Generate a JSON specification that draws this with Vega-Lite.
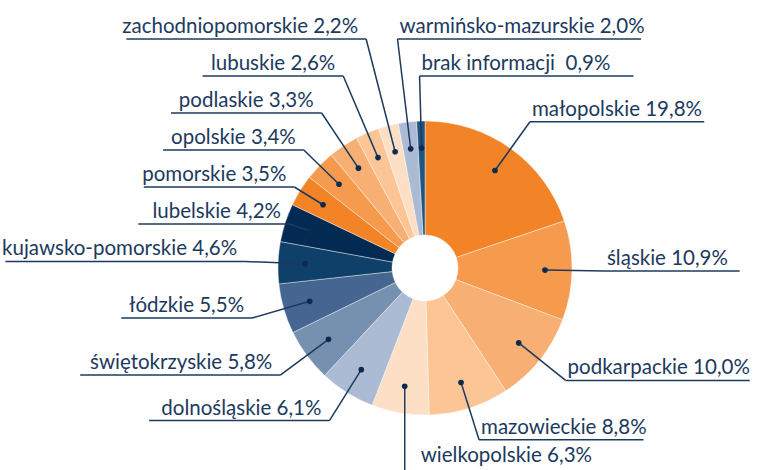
{
  "$schema": "https://vega.github.io/schema/vega-lite/v6.json",
  "width": 672,
  "height": 404,
  "autosize": {"type": "none"},
  "padding": {"left": 89, "top": 66, "right": 0, "bottom": 0},
  "background": "white",
  "config": {"view": {"stroke": null}},
  "data": {"values": [
    {"name": "małopolskie", "value": 19.8, "label": "małopolskie 19,8%"},
    {"name": "śląskie", "value": 10.9, "label": "śląskie 10,9%"},
    {"name": "podkarpackie", "value": 10.0, "label": "podkarpackie 10,0%"},
    {"name": "mazowieckie", "value": 8.8, "label": "mazowieckie 8,8%"},
    {"name": "wielkopolskie", "value": 6.3, "label": "wielkopolskie 6,3%"},
    {"name": "dolnośląskie", "value": 6.1, "label": "dolnośląskie 6,1%"},
    {"name": "świętokrzyskie", "value": 5.8, "label": "świętokrzyskie 5,8%"},
    {"name": "łódzkie", "value": 5.5, "label": "łódzkie 5,5%"},
    {"name": "kujawsko-pomorskie", "value": 4.6, "label": "kujawsko-pomorskie 4,6%"},
    {"name": "lubelskie", "value": 4.2, "label": "lubelskie 4,2%"},
    {"name": "pomorskie", "value": 3.5, "label": "pomorskie 3,5%"},
    {"name": "opolskie", "value": 3.4, "label": "opolskie 3,4%"},
    {"name": "podlaskie", "value": 3.3, "label": "podlaskie 3,3%"},
    {"name": "lubuskie", "value": 2.6, "label": "lubuskie 2,6%"},
    {"name": "zachodniopomorskie", "value": 2.2, "label": "zachodniopomorskie 2,2%"},
    {"name": "warmińsko-mazurskie", "value": 2.0, "label": "warmińsko-mazurskie 2,0%"},
    {"name": "brak informacji", "value": 0.9, "label": "brak informacji\u00a0 0,9%"}
  ]},
  "transform": [
    {"window": [{"op": "row_number", "as": "rn"}, {"op": "sum", "field": "value", "as": "cum"}], "frame": [null, 0]},
    {"joinaggregate": [{"op": "sum", "field": "value", "as": "total"}]},
    {"calculate": "datum.rn - 1", "as": "i"},
    {"calculate": "2*PI*(datum.cum - datum.value/2)/datum.total", "as": "a"},
    {"calculate": "120*sin(datum.a)", "as": "dx"},
    {"calculate": "120*cos(datum.a)", "as": "dy"},
    {"calculate": "cos(datum.a) < -0.97 ? 'v' : (datum.i >= 9 ? 'stack' : 'radial')", "as": "mode"},
    {"calculate": "datum.i <= 14 ? datum.i - 9 : 20 - datum.i", "as": "k"},
    {"calculate": "datum.mode == 'stack' ? 44 + 37*datum.k : (datum.mode == 'v' ? -215 : 180*cos(datum.a))", "as": "ey"},
    {"calculate": "datum.mode == 'stack' ? datum.ey*sin(datum.a)/cos(datum.a) : (datum.mode == 'v' ? datum.dx : 180*sin(datum.a))", "as": "ex"},
    {"calculate": "sin(datum.a) > -0.2 ? 'R' : 'L'", "as": "side"},
    {"calculate": "length(datum.label)*9.9", "as": "w"},
    {"calculate": "datum.side == 'R' ? datum.ex + datum.w + 6 : datum.ex - datum.w - 12", "as": "ux"},
    {"calculate": "datum.mode == 'v' ? datum.ex + 16 : (datum.side == 'R' ? datum.ex + 2 : datum.ex - 8)", "as": "tx"},
    {"calculate": "datum.mode == 'v' ? -194 : datum.ey + 6", "as": "ty"}
  ],
  "layer": [
    {
      "data": {"values": [{"ring": "outline"}]},
      "transform": [],
      "mark": {"type": "point", "shape": "circle", "filled": false, "size": 77437, "stroke": "#1C3A5E", "strokeWidth": 1.6, "strokeDash": [2, 3], "opacity": 1},
      "encoding": {
        "x": {"datum": 0, "type": "quantitative", "scale": {"domain": [-336, 336], "nice": false, "zero": false}, "axis": null},
        "y": {"datum": 0, "type": "quantitative", "scale": {"domain": [-202, 202], "nice": false, "zero": false}, "axis": null}
      }
    },
    {
      "mark": {"type": "arc", "outerRadius": 147, "innerRadius": 33, "stroke": "#ffffff", "strokeWidth": 0.4},
      "encoding": {
        "theta": {"field": "value", "type": "quantitative", "stack": true},
        "order": {"field": "rn", "type": "quantitative", "sort": "ascending"},
        "color": {"field": "name", "type": "nominal", "legend": null, "sort": null,
          "scale": {
            "domain": ["małopolskie", "śląskie", "podkarpackie", "mazowieckie", "wielkopolskie", "dolnośląskie", "świętokrzyskie", "łódzkie", "kujawsko-pomorskie", "lubelskie", "pomorskie", "opolskie", "podlaskie", "lubuskie", "zachodniopomorskie", "warmińsko-mazurskie", "brak informacji"],
            "range": ["#F28427", "#F69A4E", "#F8AF73", "#FBC596", "#FDDFC5", "#ABBBD3", "#7690B0", "#446690", "#0F4069", "#022A52", "#F28427", "#F69A4E", "#F8AF73", "#FBC596", "#FDDFC5", "#ABBBD3", "#1F5582"]
          }}
      }
    },
    {
      "mark": {"type": "rule", "color": "#1C3A5E", "strokeWidth": 1.5},
      "encoding": {
        "x": {"field": "dx", "type": "quantitative"},
        "y": {"field": "dy", "type": "quantitative"},
        "x2": {"field": "ex"},
        "y2": {"field": "ey"}
      }
    },
    {
      "mark": {"type": "rule", "color": "#1C3A5E", "strokeWidth": 1.5},
      "encoding": {
        "x": {"field": "ex", "type": "quantitative"},
        "y": {"field": "ey", "type": "quantitative"},
        "x2": {"field": "ux"},
        "y2": {"field": "ey"}
      }
    },
    {
      "mark": {"type": "point", "shape": "circle", "filled": true, "size": 32, "color": "#0D2B4E", "opacity": 1},
      "encoding": {
        "x": {"field": "dx", "type": "quantitative"},
        "y": {"field": "dy", "type": "quantitative"}
      }
    },
    {
      "transform": [{"filter": "datum.side == 'R'"}],
      "mark": {"type": "text", "align": "left", "baseline": "alphabetic", "font": "Lato", "fontSize": 20.5, "color": "#1C3A5E"},
      "encoding": {
        "x": {"field": "tx", "type": "quantitative"},
        "y": {"field": "ty", "type": "quantitative"},
        "text": {"field": "label"}
      }
    },
    {
      "transform": [{"filter": "datum.side == 'L'"}],
      "mark": {"type": "text", "align": "right", "baseline": "alphabetic", "font": "Lato", "fontSize": 20.5, "color": "#1C3A5E"},
      "encoding": {
        "x": {"field": "tx", "type": "quantitative"},
        "y": {"field": "ty", "type": "quantitative"},
        "text": {"field": "label"}
      }
    }
  ]
}
